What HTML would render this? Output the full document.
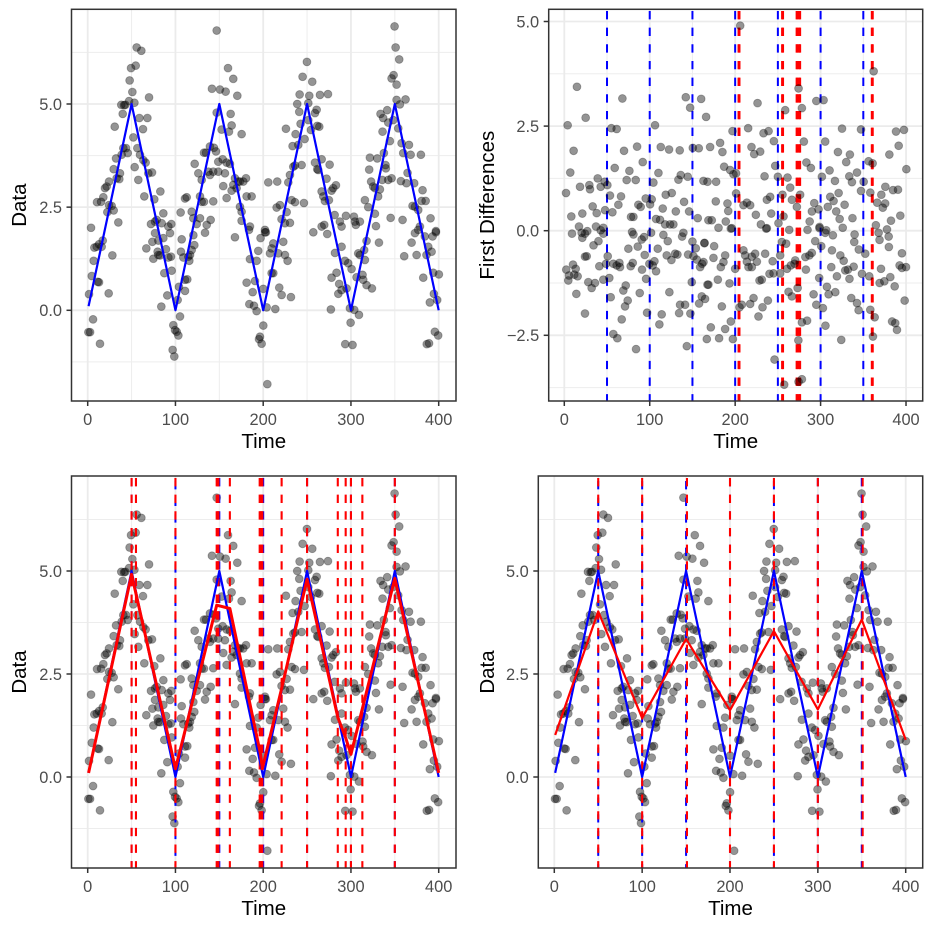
<!DOCTYPE html>
<html>
<head>
<meta charset="utf-8">
<title>Time series change-point panels</title>
<style>
html,body{margin:0;padding:0;background:#fff;width:932px;height:932px;overflow:hidden}
svg{display:block;font-family:"Liberation Sans",sans-serif}
</style>
</head>
<body>
<svg id="chart" xmlns="http://www.w3.org/2000/svg" width="932" height="932" viewBox="0 0 932 932"></svg>
<script>
const dataTimes = [
55.8,61.1,54.7,49.4,47.8,50.9,69.9,47.1,53.2,38.3,42.9,41.4,39.9,58.9,68,30.8,63,52,40.6,43.7,56.6,45.6,38.7,59.6,32.3,63.4,66,53.5,29.6,36.8,69.1,73.3,33,36,57.7,24.3,21.6,19.7,82.8,17.8,64.5,75.9,10.6,15.2,24.3,27.3,29.6,22.4,86.2,34.9,3.8,72.1,78.6,76.7,95.3,84.3,91.9,
147,159.9,165.9,141.6,150.7,157.2,170.5,147,162.9,164,152.6,161,175.4,139.3,143.9,146.2,132.5,134.8,153.8,148.8,158.3,162.1,121.9,126.1,137.5,143.1,139.3,148.8,156.4,129.9,167.8,171.6,154.5,165.9,164,158.3,143.1,128,129.9,132.5,110.9,112.8,118.5,105.9,128,140.1,120.4,135.6,124.2,
180.4,177.3,173.5,169.7,181.1,186.8,173.5,175.4,175.4,184.9,202,205.8,216,228.6,230.5,234.3,236.2,243.8,233.5,240,247.2,236.9,225.9,242.6,251.4,241.1,259,260.9,238.8,251.4,241.5,252.5,264.7,273.8,244.9,255.9,249.8,254.4,261.6,263.9,259,266.6,275.7,261.6,262.7,272.2,282.9,279.8,277.9,266.6,268.5,270.3,274.9,232.4,236.2,246.4,219.1,215.3,226.7,220.9,230.5,281.4,294.3,303.4,304.5,310.2,287.4,289.3,269.6,266.6,224.8,
349.7,350.9,355,348.6,346.3,352,362.2,352,355.8,341.3,333.7,336.7,342.5,348.2,353.9,336,344.4,357.7,366.1,337.5,321.6,330,359.6,368,379.7,339.4,339.8,320.8,364.5,323,325.3,327.3,335.7,342.5,346.3,356.9,363.3,372.1,333,331,381.6,315.9,319.7,380.5,385.1,370.2,372.9,376.7,327.3,345.2,358.8,390.7,328.5,378.6,396.8,
167.8,133.7,120.4,107.1,73.7,76.7,86.2,80.5,93.8,17.1,7.6,10.3,12.9,15.9,6.8,28.1,4.6,11.4,12.9,1.5,23.9,66.8,79.7,89.2,74.8,80.5,82.4,91.9,94.9,121.5,118.5,116.6,114.7,109,115.8,106.3,95.7,87.3,113.5,110.9,104,110.9,90.7,102.5,83.9,105.2,6.1,0.8,2.7,14,97.6,99.5,101.4,103.3,96.8,98.7,
183.8,197,202,203.1,211.5,222.9,209.6,207.7,217.2,224.8,184.9,192.5,194.4,227.8,209.6,211.5,190.6,181.1,200.1,218.3,188,221,231.6,184.2,189.5,192.5,203.9,213.8,200.1,196.3,195.2,198.2,204.7,
257.1,273,305.6,317.8,331.9,289.3,281.8,293.1,296.9,300.7,283.6,277.9,315.9,315.1,308.3,310.2,286.6,295,289.3,285.6,313.2,306.4,314,317.8,323.9,277.1,298.8,303.8,309.1,299.6,293.5,301.8,
376.7,372.9,369.1,360.7,374.8,384.2,393,396.8,388.1,391.9,386.1,393.8,400.2,382.4,394.5,398.3,389.9,395.6,399.4,386.4,389
];
const dataValues = [
6.37,6.29,5.93,5.87,5.57,5.29,5.16,5.07,5.03,4.98,4.98,4.97,4.76,4.66,4.66,4.45,4.39,4.19,3.93,3.93,3.93,3.81,3.77,3.77,3.68,3.64,3.58,3.47,3.42,3.32,3.32,3.34,3.2,3.18,3.16,3.12,3.0,2.96,2.88,2.74,2.76,2.69,2.62,2.63,2.55,2.53,2.42,2.38,2.35,2.13,2.0,2.09,2.19,2.15,2.09,2.11,2.03,
6.78,5.87,5.61,5.37,5.35,5.3,5.2,4.79,4.76,4.48,4.38,4.33,4.27,3.97,3.94,3.85,3.82,3.82,3.66,3.6,3.58,3.55,3.55,3.32,3.36,3.36,3.28,3.36,3.32,3.16,3.2,3.12,3.01,3.04,2.9,2.72,2.64,2.76,2.63,2.63,2.71,2.74,2.39,2.37,2.23,2.19,2.23,2.07,2.09,
3.2,3.12,3.12,2.96,2.76,2.76,2.51,2.39,2.17,2.03,1.95,3.1,3.12,3.1,3.28,3.48,3.51,3.52,3.98,4.01,4.15,4.27,4.4,4.52,4.61,4.81,4.78,4.86,5.0,5.02,5.23,5.2,5.22,5.24,5.66,5.54,6.02,4.37,4.47,4.45,3.58,3.66,3.53,3.42,3.4,3.19,3.03,2.96,2.9,2.88,2.76,2.65,2.67,2.67,2.62,2.6,2.55,2.49,2.38,2.21,2.12,2.31,2.29,2.27,2.15,2.15,2.15,2.03,2.07,2.03,2.11,
6.88,6.37,6.08,5.7,5.62,5.47,5.11,5.1,4.99,4.85,4.76,4.66,4.55,4.61,4.41,4.33,4.1,4.05,4.01,3.81,3.7,3.68,3.81,3.77,3.77,3.52,3.44,3.41,3.33,3.12,3.0,2.96,3.16,3.16,3.2,3.13,3.08,3.08,2.93,2.76,2.91,2.67,2.5,2.65,2.65,2.53,2.51,2.43,2.34,2.24,2.19,2.23,2.04,2.03,1.92,
1.77,1.88,1.82,1.72,1.66,1.87,1.75,1.69,1.87,1.69,1.52,1.54,1.6,1.54,1.2,1.33,0.83,0.69,0.68,0.39,0.41,1.5,1.42,1.48,1.25,1.34,1.33,1.28,1.3,1.58,1.46,1.34,1.3,1.28,1.2,1.42,0.96,0.9,0.75,0.74,0.57,0.47,0.36,0.25,0.09,-0.15,-0.22,-0.53,-0.53,-0.81,-0.36,-0.48,-0.52,-0.61,-0.96,-1.12,
1.95,1.75,1.89,1.89,1.62,1.66,1.5,1.38,1.38,1.34,1.24,1.2,1.44,1.2,0.9,0.9,0.71,0.67,0.52,0.55,0.44,0.37,0.32,0.15,0.11,-0.02,0.07,0.03,-0.37,-0.64,-0.7,-0.81,-1.79,
1.89,1.85,2.07,1.68,1.64,1.54,1.39,1.2,1.14,1.0,0.91,0.79,1.22,1.46,1.38,1.34,0.64,0.53,0.49,0.4,0.86,0.8,0.74,0.61,0.53,0.02,0.05,0.01,-0.11,-0.3,-0.82,-0.84,
1.95,1.87,1.64,1.31,1.34,1.79,1.79,1.89,1.54,1.42,1.34,0.91,0.87,0.79,0.4,0.25,0.19,-0.52,-0.61,-0.82,-0.8
];
const diffTimes = [
14.8,68,25,3.9,55.1,61.3,106.2,142.2,160.2,147.3,166,10.9,69.9,85.2,112.9,122.6,135.1,150.4,157.4,170.7,91.8,59,76.2,7,110.2,73,83.6,136.3,133.6,144.5,162.9,167.6,39.1,47.3,50.4,18.4,29.3,30.1,42.6,104.3,2,53.5,66.4,118.7,125.8,95.3,102.3,140.2,63.3,33.2,86.7,89.4,100.4,47.7,56.3,115.2,130.5,146.1,8.2,21.1,37.9,78.1,80.9,107.4,112.1,118,123.8,127.7,156.2,168.7,17.2,37.1,45.7,
9,20.3,26.9,24.2,42.6,45.7,21.1,40,34.2,24.2,26.2,50.8,41,48.8,57.4,61.3,64.5,65.2,75,86,79.3,80.9,90.6,93.4,101.6,94.1,109.4,116,121.1,137.9,139.4,150,119.9,125.4,129.7,132.4,144.9,153.9,151.2,155.1,159,161.3,164.1,105.5,99.6,103.5,107.4,77.7,80.1,91,95.7,2.3,10.2,5.5,4.7,13.3,11.7,15.6,28.1,35.9,32,45.7,52.7,71.9,69.1,88.3,74.2,71.1,54.3,14.1,24.2,67.2,96.9,114,111.3,123,134.4,135.5,141.4,147.6,149.2,157.8,160.9,167.6,164.8,171.5,166.8,57.4,62.1,84,143.4,
205.9,362.1,274.2,226.2,258.6,278.1,295,303.5,196.9,215.2,233.2,239.1,325.1,347.3,388.3,397.6,182.4,245.3,280.4,305.4,391.4,219.1,185.1,222.3,229.3,320.3,334.3,380.5,187.1,194.1,201.1,198,246.9,283.4,288.6,330,356.2,360.9,400.4,234.4,250,261.3,301.5,310.5,342.6,333.6,316.8,336.7,350.4,177.7,264.4,375.8,384.8,390.6,321.1,347.3,358.2,201.1,255.4,276.1,311.3,241,371.1,177.3,237.1,266.4,272.2,315.2,366.2,375.6,292.6,191,209.7,213.7,217.6,328.1,191.9,289.8,297.6,308.4,372.8,318.3,224.2,242.2,256.6,393.3,172.6,189,287.2,322.3,337.3,382.4,250.7,230.1,237.1,196.1,364.7,325.9,298.8,180.5,263.3,284.7,306.6,
194.9,236.3,298.7,314.4,305.4,339.8,367.9,377.7,379.7,369,339.4,164,175.4,254.7,259.7,293.7,300.8,344.7,379.9,313.3,323.1,327,352.3,209.7,211.7,223.4,219.5,235.1,252.7,289.7,286.9,282.2,395.2,174.6,188.3,213.7,225.4,186.3,243.9,270.3,162.9,183.2,200,215.6,219.5,265.2,269.5,260.7,282.8,312.5,338.7,328.9,332,370.7,392.5,395.2,400,240.2,244.9,252.7,348.4,357,179.7,228.5,231.2,298.4,319.1,333.8,381.6,168.7,193.4,369.1,374.6,386.7,307.4,273.1,262.5,291.8,309.4,317.2,266.4,335.9,221.5,342.6,398.4,238.3,232,217.6,295,184.4,207.8,205.1,344.5,358.2,302.7,227.3,363.3,194.9,278.1,284.2,383.7,387.4,305.7,188.3,389.4,181.2,197.3,361.3,324.2,274,246.1,278.1,274.2,257.4
];
const diffValues = [
3.44,3.16,2.7,2.52,2.45,2.43,2.52,3.19,3.15,2.94,2.72,1.91,1.91,2.01,2.0,1.94,1.92,1.98,1.97,2.0,1.64,1.5,1.43,1.39,1.38,1.21,1.21,1.33,1.22,1.29,1.19,1.17,1.25,1.17,1.09,1.05,1.09,0.99,1.05,1.15,0.9,0.84,0.82,0.86,0.9,0.77,0.75,0.69,0.62,0.58,0.62,0.57,0.63,0.49,0.44,0.53,0.46,0.46,0.34,0.41,0.42,0.33,0.33,0.28,0.26,0.15,0.15,0.15,0.3,0.25,0.1,0.1,0.07,
-0.07,-0.05,-0.01,-0.07,0.01,-0.07,-0.17,-0.25,-0.35,-0.62,-0.61,-0.61,-0.85,-0.79,-0.79,-0.83,-0.77,-0.87,-0.43,-0.38,-0.03,-0.09,-0.21,-0.15,-0.05,-0.58,-0.43,-0.1,-0.25,-0.14,-0.05,-0.26,-0.59,-0.7,-0.55,-0.57,-0.57,-0.42,-0.61,-0.69,-0.87,-0.79,-0.29,-0.73,-0.79,-0.83,-0.97,-0.85,-0.77,-0.93,-1.15,-0.93,-0.81,-1.07,-1.19,-0.91,-1.05,-1.09,-1.23,-1.25,-1.37,-1.17,-1.13,-1.31,-1.43,-1.49,-1.67,-1.81,-1.59,-1.51,-1.98,-2.12,-1.96,-2.0,-2.24,-1.47,-1.97,-1.77,-1.77,-1.98,-1.23,-1.74,-1.57,-1.29,-1.63,-2.31,-2.59,-2.47,-2.57,-2.83,-2.76,
4.9,3.81,3.4,3.05,2.88,2.93,3.1,3.12,2.38,2.45,2.33,2.38,2.44,2.42,2.37,2.41,2.1,2.14,2.13,2.13,2.03,2.0,1.88,1.83,1.89,1.88,1.82,1.82,1.53,1.45,1.37,1.35,1.55,1.63,1.5,1.64,1.66,1.61,1.47,1.3,1.29,1.27,1.29,1.44,1.39,1.3,1.19,1.16,1.17,1.17,1.03,1.05,0.97,0.98,0.9,0.95,0.91,0.89,0.86,0.86,0.81,0.81,0.86,0.7,0.74,0.74,0.57,0.71,0.67,0.65,0.66,0.65,0.61,0.67,0.61,0.62,0.47,0.46,0.51,0.57,0.55,0.46,0.38,0.41,0.34,0.36,0.25,0.22,0.22,0.28,0.3,0.24,0.18,0.15,0.06,0.06,0.13,0.07,0.09,0.07,0.02,0.02,0.01,
0.05,0.05,0.06,-0.11,-0.05,-0.09,-0.05,0.03,-0.14,-0.22,-0.27,-0.3,-0.37,-0.27,-0.31,-0.25,-0.37,-0.45,-0.39,-0.47,-0.59,-0.72,-0.55,-0.47,-0.59,-0.55,-0.62,-0.55,-0.59,-0.53,-0.59,-0.63,-0.54,-0.65,-0.59,-0.74,-0.74,-0.75,-0.73,-0.71,-0.75,-0.87,-0.91,-0.87,-0.87,-0.83,-0.79,-0.91,-0.93,-0.87,-0.86,-0.95,-0.93,-0.91,-0.83,-0.89,-0.87,-1.03,-1.02,-1.02,-1.03,-1.09,-1.17,-1.19,-1.17,-1.13,-1.09,-1.15,-1.11,-1.29,-1.26,-1.25,-1.21,-1.33,-1.34,-1.37,-1.46,-1.52,-1.52,-1.47,-1.57,-1.61,-1.61,-1.73,-1.67,-1.67,-1.83,-1.75,-1.77,-1.81,-1.77,-1.83,-1.9,-1.89,-1.85,-2.05,-2.07,-2.17,-2.19,-2.15,-2.17,-2.21,-2.27,-2.35,-2.37,-2.57,-2.59,-2.53,-2.61,-2.62,-3.08,-3.55,-3.61,-3.68
];
const trendTimes = [1,50,100,150,200,250,300,350,400];
const trendValues = [0.1,5,0,5,0,5,0,5,0];
const sparseFitTimes = [1,50,55,100,147,162,197,199,221,250,285,294,300,313,350,400];
const sparseFitValues = [0.1,4.92,4.45,0.2,4.17,4.09,0.55,0.2,2.15,4.8,1.45,0.95,0.55,1.66,4.82,0.1];
const smoothFitTimes = [1,50,100,150,200,250,300,350,400];
const smoothFitValues = [1.02,4.02,1.43,3.35,1.62,3.54,1.64,3.82,0.9];
const trueChangePoints = [50,100,150,200,250,300,350];
const diffDetected = [204,205,255,256,272,273,275,276,360,361];
const sparseDetected = [50,55,100,147,148,149,162,196,197,198,199,221,250,285,294,300,313,350];
const smoothDetected = [50,100,151,200,250,300,351];
const xMajorTicks = [0,100,200,300,400];
const xMinorGrid = [50,150,250,350];
const dataYTicks = [0,2.5,5];
const dataYTickLabels = ["0.0","2.5","5.0"];
const dataYMinor = [-1.25,1.25,3.75,6.25];
const diffYTicks = [-2.5,0,2.5,5];
const diffYTickLabels = ["\u22122.5","0.0","2.5","5.0"];
const diffYMinor = [-3.75,-1.25,1.25,3.75];
const xAxisTitle = "Time";
const dataAxisTitle = "Data";
const diffAxisTitle = "First Differences";

const NS = "http://www.w3.org/2000/svg";
const root = document.getElementById("chart");
const DASH = "8.33 8.33";
const PHASE_SAME = 1.5;
const PHASE_SHIFTED = 4.5;

function mk(parent, tag, attrs) {
  const el = document.createElementNS(NS, tag);
  for (const k in attrs) el.setAttribute(k, attrs[k]);
  parent.appendChild(el);
  return el;
}

function xScale(p, t) { return p.x0 + t * p.sx; }
function yScale(p, v) { return p.y0 - v * p.sy; }

function polyPoints(p, ts, vs) {
  return ts.map((t, i) => xScale(p, t).toFixed(2) + "," + yScale(p, vs[i]).toFixed(2)).join(" ");
}

function drawVlines(p, g, values, color, width, offsetFn) {
  values.forEach(function (t) {
    const x = xScale(p, t);
    const line = mk(g, "line", {x1: x, x2: x, y1: p.bottom, y2: p.top, stroke: color, "stroke-width": width, "stroke-dasharray": DASH, "stroke-dashoffset": offsetFn ? offsetFn(t) : PHASE_SAME});
    
    
  });
}

function drawPoints(p, g, ts, vs) {
  ts.forEach(function (t, i) {
    const c = mk(g, "circle", {cx: xScale(p, t).toFixed(2), cy: yScale(p, vs[i]).toFixed(2), r: 3.95, fill: "rgba(0,0,0,0.42)", stroke: "rgba(0,0,0,0.28)", "stroke-width": 0.9});
    
    
  });
}

function drawLine(p, g, ts, vs, color, width, name) {
  const l = mk(g, "polyline", {points: polyPoints(p, ts, vs), fill: "none", stroke: color, "stroke-width": width, "stroke-linejoin": "round"});
  
  
}

function drawFrame(p) {
  const g = mk(root, "g", {});
  
  
  p.yMinor.forEach(function (v) {
    const y = yScale(p, v);
    const l = mk(g, "line", {x1: p.left, x2: p.right, y1: y, y2: y, stroke: "#EDEDED", "stroke-width": 1});
    
    
  });
  xMinorGrid.forEach(function (t) {
    const x = xScale(p, t);
    const l = mk(g, "line", {x1: x, x2: x, y1: p.top, y2: p.bottom, stroke: "#EDEDED", "stroke-width": 1});
    
    
  });
  p.yTicks.forEach(function (v) {
    const y = yScale(p, v);
    const l = mk(g, "line", {x1: p.left, x2: p.right, y1: y, y2: y, stroke: "#EBEBEB", "stroke-width": 1.8});
    
    
  });
  xMajorTicks.forEach(function (t) {
    const x = xScale(p, t);
    const l = mk(g, "line", {x1: x, x2: x, y1: p.top, y2: p.bottom, stroke: "#EBEBEB", "stroke-width": 1.8});
    
    
  });
  return g;
}

function drawAxes(p) {
  const g = mk(root, "g", {});
  
  
  const border = mk(g, "rect", {x: p.left, y: p.top, width: p.right - p.left, height: p.bottom - p.top, fill: "none", stroke: "#333333", "stroke-width": 1.5});
  
  
  xMajorTicks.forEach(function (t) {
    const x = xScale(p, t);
    const tick = mk(g, "line", {x1: x, x2: x, y1: p.bottom, y2: p.bottom + 5, stroke: "#333333", "stroke-width": 1.5});
    
    
    const lab = mk(g, "text", {x: x, y: p.bottom + 24, "text-anchor": "middle", "font-size": 16.4, fill: "#4D4D4D"});
    lab.textContent = String(t);
    
    
  });
  p.yTicks.forEach(function (v, i) {
    const y = yScale(p, v);
    const tick = mk(g, "line", {x1: p.left - 5, x2: p.left, y1: y, y2: y, stroke: "#333333", "stroke-width": 1.5});
    
    
    const lab = mk(g, "text", {x: p.left - 9.5, y: y + 5.8, "text-anchor": "end", "font-size": 16.4, fill: "#4D4D4D"});
    lab.textContent = p.yLabels[i];
    
    
  });
  const xt = mk(g, "text", {x: (p.left + p.right) / 2, y: p.bottom + 47, "text-anchor": "middle", "font-size": 20.5, fill: "#000"});
  xt.textContent = xAxisTitle;
  
  
  const yc = (p.top + p.bottom) / 2;
  const yt = mk(g, "text", {x: p.titleX, y: yc, "text-anchor": "middle", "font-size": 20.5, fill: "#000", transform: "rotate(-90 " + p.titleX + " " + yc + ")"});
  yt.textContent = p.yTitle;
  
  
}

const panelA = {name: "data-panel", left: 71.5, right: 456, top: 9.3, bottom: 401, x0: 87.7, sx: 0.8775, y0: 310.3, sy: 41.26, yTicks: dataYTicks, yLabels: dataYTickLabels, yMinor: dataYMinor, yTitle: dataAxisTitle, titleX: 26};
const panelB = {name: "first-differences-panel", left: 548.7, right: 922.7, top: 9.3, bottom: 401, x0: 564.3, sx: 0.8543, y0: 230.7, sy: 41.84, yTicks: diffYTicks, yLabels: diffYTickLabels, yMinor: diffYMinor, yTitle: diffAxisTitle, titleX: 494};
const panelC = {name: "sparse-fit-panel", left: 71.5, right: 456, top: 476, bottom: 868, x0: 87.7, sx: 0.8775, y0: 777, sy: 41.2, yTicks: dataYTicks, yLabels: dataYTickLabels, yMinor: dataYMinor, yTitle: dataAxisTitle, titleX: 26};
const panelD = {name: "smooth-fit-panel", left: 538.3, right: 922.7, top: 476, bottom: 868, x0: 554.3, sx: 0.8785, y0: 777, sy: 41.2, yTicks: dataYTicks, yLabels: dataYTickLabels, yMinor: dataYMinor, yTitle: dataAxisTitle, titleX: 494};

// Panel A: data and true trend
let g = drawFrame(panelA);
drawPoints(panelA, g, dataTimes, dataValues);
drawLine(panelA, g, trendTimes, trendValues, "#0000FF", 2.2, "true-trend-line");
drawAxes(panelA);

// Panel B: first differences with change points
g = drawFrame(panelB);
drawVlines(panelB, g, trueChangePoints, "#0000FF", 2);
drawVlines(panelB, g, diffDetected, "#FF0000", 2.1);
drawPoints(panelB, g, diffTimes, diffValues);
drawAxes(panelB);

// Panel C: sparse fit
g = drawFrame(panelC);
drawPoints(panelC, g, dataTimes, dataValues);
drawVlines(panelC, g, trueChangePoints, "#0000FF", 2, function (t) { return t === 100 ? PHASE_SHIFTED : PHASE_SAME; });
drawVlines(panelC, g, sparseDetected, "#FF0000", 2.1);
drawLine(panelC, g, trendTimes, trendValues, "#0000FF", 2.2, "true-trend-line");
drawLine(panelC, g, sparseFitTimes, sparseFitValues, "#FF0000", 3, "estimated-trend-line");
drawAxes(panelC);

// Panel D: smooth fit
g = drawFrame(panelD);
drawPoints(panelD, g, dataTimes, dataValues);
drawVlines(panelD, g, trueChangePoints, "#0000FF", 2, function (t) { return (t === 200 || t === 300 || t === 350) ? PHASE_SAME : PHASE_SHIFTED; });
drawVlines(panelD, g, smoothDetected, "#FF0000", 2.1);
drawLine(panelD, g, trendTimes, trendValues, "#0000FF", 2.2, "true-trend-line");
drawLine(panelD, g, smoothFitTimes, smoothFitValues, "#FF0000", 2.2, "estimated-trend-line");
drawAxes(panelD);
</script>
</body>
</html>
